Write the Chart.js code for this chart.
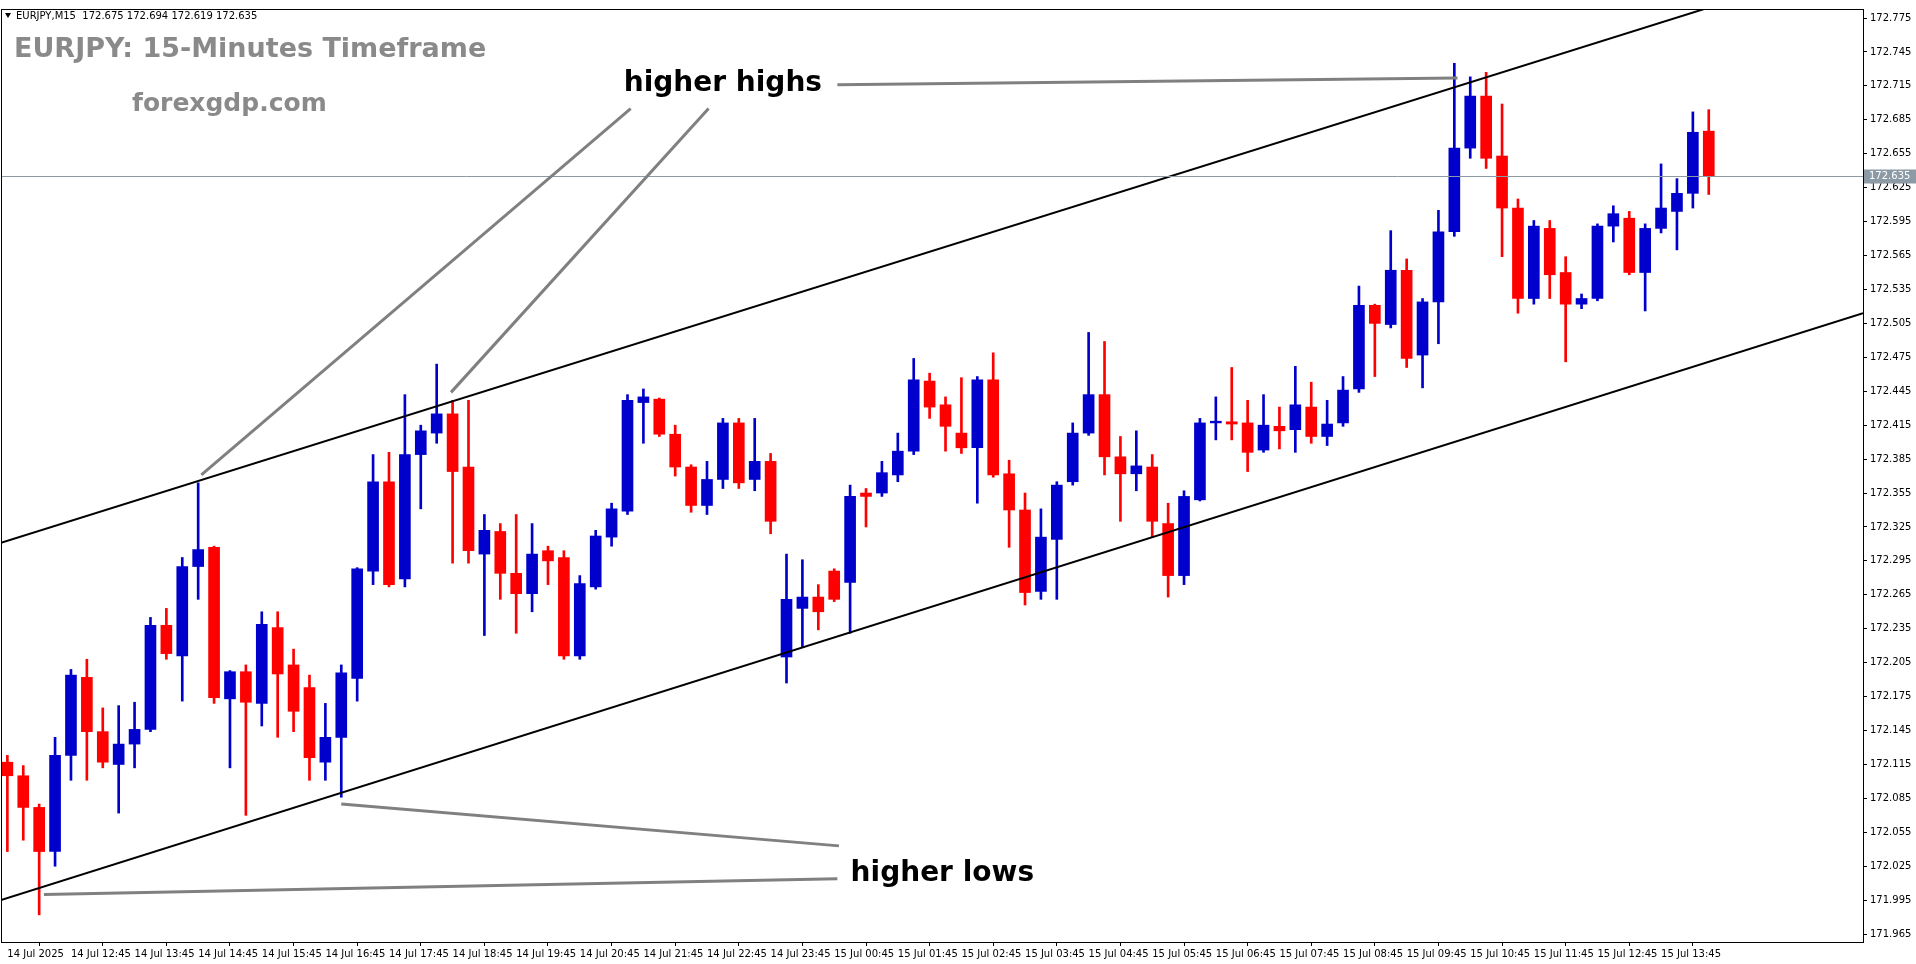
<!DOCTYPE html>
<html><head><meta charset="utf-8">
<script src="https://cdn.jsdelivr.net/npm/chart.js@4.4.0/dist/chart.umd.min.js"></script>
<style>html,body{margin:0;padding:0;background:#fff;overflow:hidden}</style>
</head><body>
<canvas id="c" width="1916" height="964"></canvas>
<script>
const opens=[172.117,172.105,172.077,172.038,172.123,172.192,172.144,172.115,172.133,172.146,172.238,172.211,172.290,172.307,172.173,172.197,172.169,172.236,172.203,172.183,172.117,172.139,172.191,172.286,172.365,172.279,172.389,172.408,172.425,172.378,172.301,172.321,172.284,172.266,172.304,172.298,172.211,172.272,172.316,172.339,172.435,172.438,172.407,172.378,172.344,172.367,172.417,172.367,172.383,172.210,172.253,172.263,172.286,172.276,172.355,172.355,172.371,172.392,172.454,172.433,172.408,172.395,172.455,172.372,172.340,172.268,172.314,172.365,172.408,172.442,172.387,172.372,172.378,172.328,172.282,172.349,172.417,172.418,172.417,172.393,172.414,172.411,172.431,172.405,172.417,172.447,172.521,172.504,172.552,172.477,172.524,172.586,172.660,172.706,172.653,172.607,172.527,172.589,172.550,172.522,172.527,172.591,172.598,172.550,172.589,172.604,172.620,172.675];
const highs=[172.123,172.114,172.080,172.139,172.199,172.208,172.165,172.167,172.170,172.245,172.253,172.298,172.364,172.308,172.198,172.203,172.250,172.250,172.217,172.194,172.169,172.203,172.289,172.389,172.391,172.442,172.415,172.469,172.437,172.437,172.336,172.328,172.336,172.328,172.308,172.304,172.282,172.322,172.346,172.442,172.447,172.439,172.415,172.380,172.383,172.421,172.421,172.421,172.390,172.301,172.296,172.274,172.288,172.362,172.359,172.383,172.408,172.474,172.461,172.440,172.457,172.458,172.479,172.384,172.355,172.341,172.365,172.417,172.497,172.489,172.405,172.410,172.389,172.346,172.357,172.421,172.440,172.466,172.437,172.442,172.431,172.467,172.453,172.437,172.458,172.538,172.522,172.587,172.562,172.527,172.605,172.735,172.723,172.727,172.699,172.615,172.596,172.596,172.564,172.531,172.593,172.609,172.604,172.593,172.646,172.633,172.692,172.694];
const lows=[172.038,172.048,171.982,172.025,172.101,172.101,172.112,172.072,172.112,172.144,172.208,172.171,172.261,172.169,172.112,172.070,172.149,172.139,172.144,172.101,172.101,172.086,172.171,172.274,172.272,172.272,172.341,172.399,172.293,172.293,172.229,172.261,172.231,172.250,172.274,172.208,172.208,172.270,172.308,172.336,172.399,172.405,172.370,172.338,172.336,172.359,172.359,172.357,172.319,172.187,172.219,172.234,172.259,172.231,172.325,172.352,172.365,172.389,172.421,172.392,172.390,172.346,172.369,172.307,172.256,172.261,172.261,172.362,172.406,172.371,172.330,172.357,172.316,172.263,172.274,172.348,172.402,172.402,172.374,172.391,172.394,172.391,172.399,172.397,172.414,172.444,172.458,172.501,172.466,172.448,172.487,172.582,172.651,172.642,172.564,172.514,172.522,172.527,172.471,172.518,172.525,172.577,172.548,172.516,172.585,172.570,172.607,172.619];
const closes=[172.105,172.077,172.038,172.123,172.194,172.144,172.117,172.133,172.146,172.238,172.213,172.290,172.305,172.174,172.197,172.170,172.239,172.195,172.162,172.121,172.139,172.196,172.288,172.365,172.274,172.389,172.410,172.425,172.374,172.304,172.322,172.284,172.266,172.301,172.295,172.211,172.275,172.317,172.341,172.437,172.440,172.407,172.378,172.344,172.367,172.417,172.364,172.383,172.330,172.261,172.263,172.250,172.261,172.352,172.352,172.373,172.392,172.455,172.431,172.414,172.395,172.455,172.371,172.340,172.267,172.316,172.362,172.408,172.442,172.387,172.372,172.379,172.330,172.282,172.352,172.417,172.418,172.416,172.391,172.415,172.410,172.433,172.405,172.416,172.446,172.521,172.505,172.552,172.474,172.524,172.586,172.660,172.706,172.651,172.607,172.527,172.591,172.548,172.522,172.527,172.591,172.602,172.550,172.589,172.607,172.620,172.674,172.635];
const tickLabels=["14 Jul 2025","14 Jul 12:45","14 Jul 13:45","14 Jul 14:45","14 Jul 15:45","14 Jul 16:45","14 Jul 17:45","14 Jul 18:45","14 Jul 19:45","14 Jul 20:45","14 Jul 21:45","14 Jul 22:45","14 Jul 23:45","15 Jul 00:45","15 Jul 01:45","15 Jul 02:45","15 Jul 03:45","15 Jul 04:45","15 Jul 05:45","15 Jul 06:45","15 Jul 07:45","15 Jul 08:45","15 Jul 09:45","15 Jul 10:45","15 Jul 11:45","15 Jul 12:45","15 Jul 13:45"];
const priceTicks=[];for(let k=0;k<28;k++)priceTicks.push(+(171.965+0.03*k).toFixed(3));
const upperTrend=[{x:-0.4,y:172.311},{x:116.7,y:172.827}];
const lowerTrend=[{x:-0.4,y:171.995},{x:116.7,y:172.514}];
const lastPrice=172.635;

const up='#0000CC',dn='#FF0000';
const col=opens.map((o,i)=>closes[i]>=o?up:dn);
const wicks=opens.map((o,i)=>({x:i,y:[lows[i],highs[i]]}));
const bodies=opens.map((o,i)=>{let a=o,b=closes[i];if(Math.abs(a-b)<0.0015){b=a+0.0015;}return {x:i,y:[Math.min(a,b),Math.max(a,b)]};});

const anno={id:'anno',afterDatasetsDraw(ch){
 const c=ch.ctx,X=ch.scales.x,Y=ch.scales.y,a=ch.chartArea;
 const px=(i,p)=>[X.getPixelForValue(i),Y.getPixelForValue(p)];
 c.save();
 c.beginPath();c.rect(a.left,a.top,a.right-a.left,a.bottom-a.top);c.clip();
 const ly=Math.round(Y.getPixelForValue(lastPrice))+0.5;
 c.strokeStyle='#8c9aa6';c.lineWidth=1;c.beginPath();c.moveTo(a.left,ly);c.lineTo(a.right,ly);c.stroke();
 c.strokeStyle='#808080';c.lineWidth=3;
 const segs=[[[39.2,172.695],[12.2,172.371]],[[44.1,172.695],[27.9,172.444]],[[52.2,172.716],[91.2,172.722]],[[52.3,172.043],[21.0,172.080]],[[52.2,172.014],[2.3,172.000]]];
 segs.forEach(s=>{const p=px(...s[0]),q=px(...s[1]);c.beginPath();c.moveTo(p[0],p[1]);c.lineTo(q[0],q[1]);c.stroke();});
 c.fillStyle='#000';c.font='bold 28px "DejaVu Sans"';c.textAlign='center';c.textBaseline='middle';
 let t=px(45,172.717);c.fillText('higher highs',t[0],t[1]);
 t=px(58.8,172.018);c.fillText('higher lows',t[0],t[1]);
 c.fillStyle='#8a8a8a';c.font='bold 27px "DejaVu Sans"';c.textAlign='left';
 c.fillText('EURJPY: 15-Minutes Timeframe',14,50);
 c.font='bold 25px "DejaVu Sans"';
 c.fillText('forexgdp.com',132,104);
 c.fillStyle='#000';c.font='10px "DejaVu Sans"';c.textBaseline='middle';
 c.fillText('EURJPY,M15  172.675 172.694 172.619 172.635',16,16);
 c.beginPath();c.moveTo(5,13);c.lineTo(11,13);c.lineTo(8,18);c.closePath();c.fill();
 c.restore();
 c.save();c.fillStyle='#8c9aa6';c.fillRect(a.right+1,ly-7,52,14);
 c.fillStyle='#fff';c.font='10px "DejaVu Sans"';c.textBaseline='middle';c.fillText('172.635',a.right+6,ly);
 c.restore();
}};

new Chart(document.getElementById('c'),{
 type:'bar',
 data:{datasets:[
  {type:'line',data:upperTrend,borderColor:'#000',borderWidth:2,pointRadius:0,order:0},
  {type:'line',data:lowerTrend,borderColor:'#000',borderWidth:2,pointRadius:0,order:0},
  {data:wicks,backgroundColor:col,barThickness:2,grouped:false,order:2},
  {data:bodies,backgroundColor:col,barThickness:11,grouped:false,order:1}
 ]},
 options:{responsive:false,animation:false,
  layout:{padding:{top:8,left:1,right:0,bottom:0}},
  plugins:{legend:{display:false},tooltip:{enabled:false}},
  scales:{
   x:{type:'linear',min:-0.4,max:116.7,offset:false,
    afterBuildTicks(s){s.ticks=tickLabels.map((l,k)=>({value:k*4}));},
    ticks:{autoSkip:false,maxRotation:0,align:'start',color:'#000',font:{size:10,family:'DejaVu Sans'},padding:2,callback:(v)=>tickLabels[v/4]},
    grid:{drawOnChartArea:false,color:'#000',tickLength:4},border:{color:'#000',width:1},
    afterFit(s){s.height=22;}},
   y:{position:'right',min:171.958,max:172.783,
    afterBuildTicks(s){s.ticks=priceTicks.map(v=>({value:v}));},
    ticks:{color:'#000',font:{size:10,family:'DejaVu Sans'},padding:3,callback:v=>v.toFixed(3)},
    grid:{drawOnChartArea:false,color:'#000',tickLength:4},border:{color:'#000',width:1},
    afterFit(s){s.width=53;}}
  }},
 plugins:[anno,{id:'frame',afterDraw(ch){const c=ch.ctx,a=ch.chartArea;c.save();c.strokeStyle='#000';c.lineWidth=1;c.strokeRect(a.left+0.5,a.top+0.5,a.right-a.left,a.bottom-a.top);c.restore();}}]
});
</script>
</body></html>
